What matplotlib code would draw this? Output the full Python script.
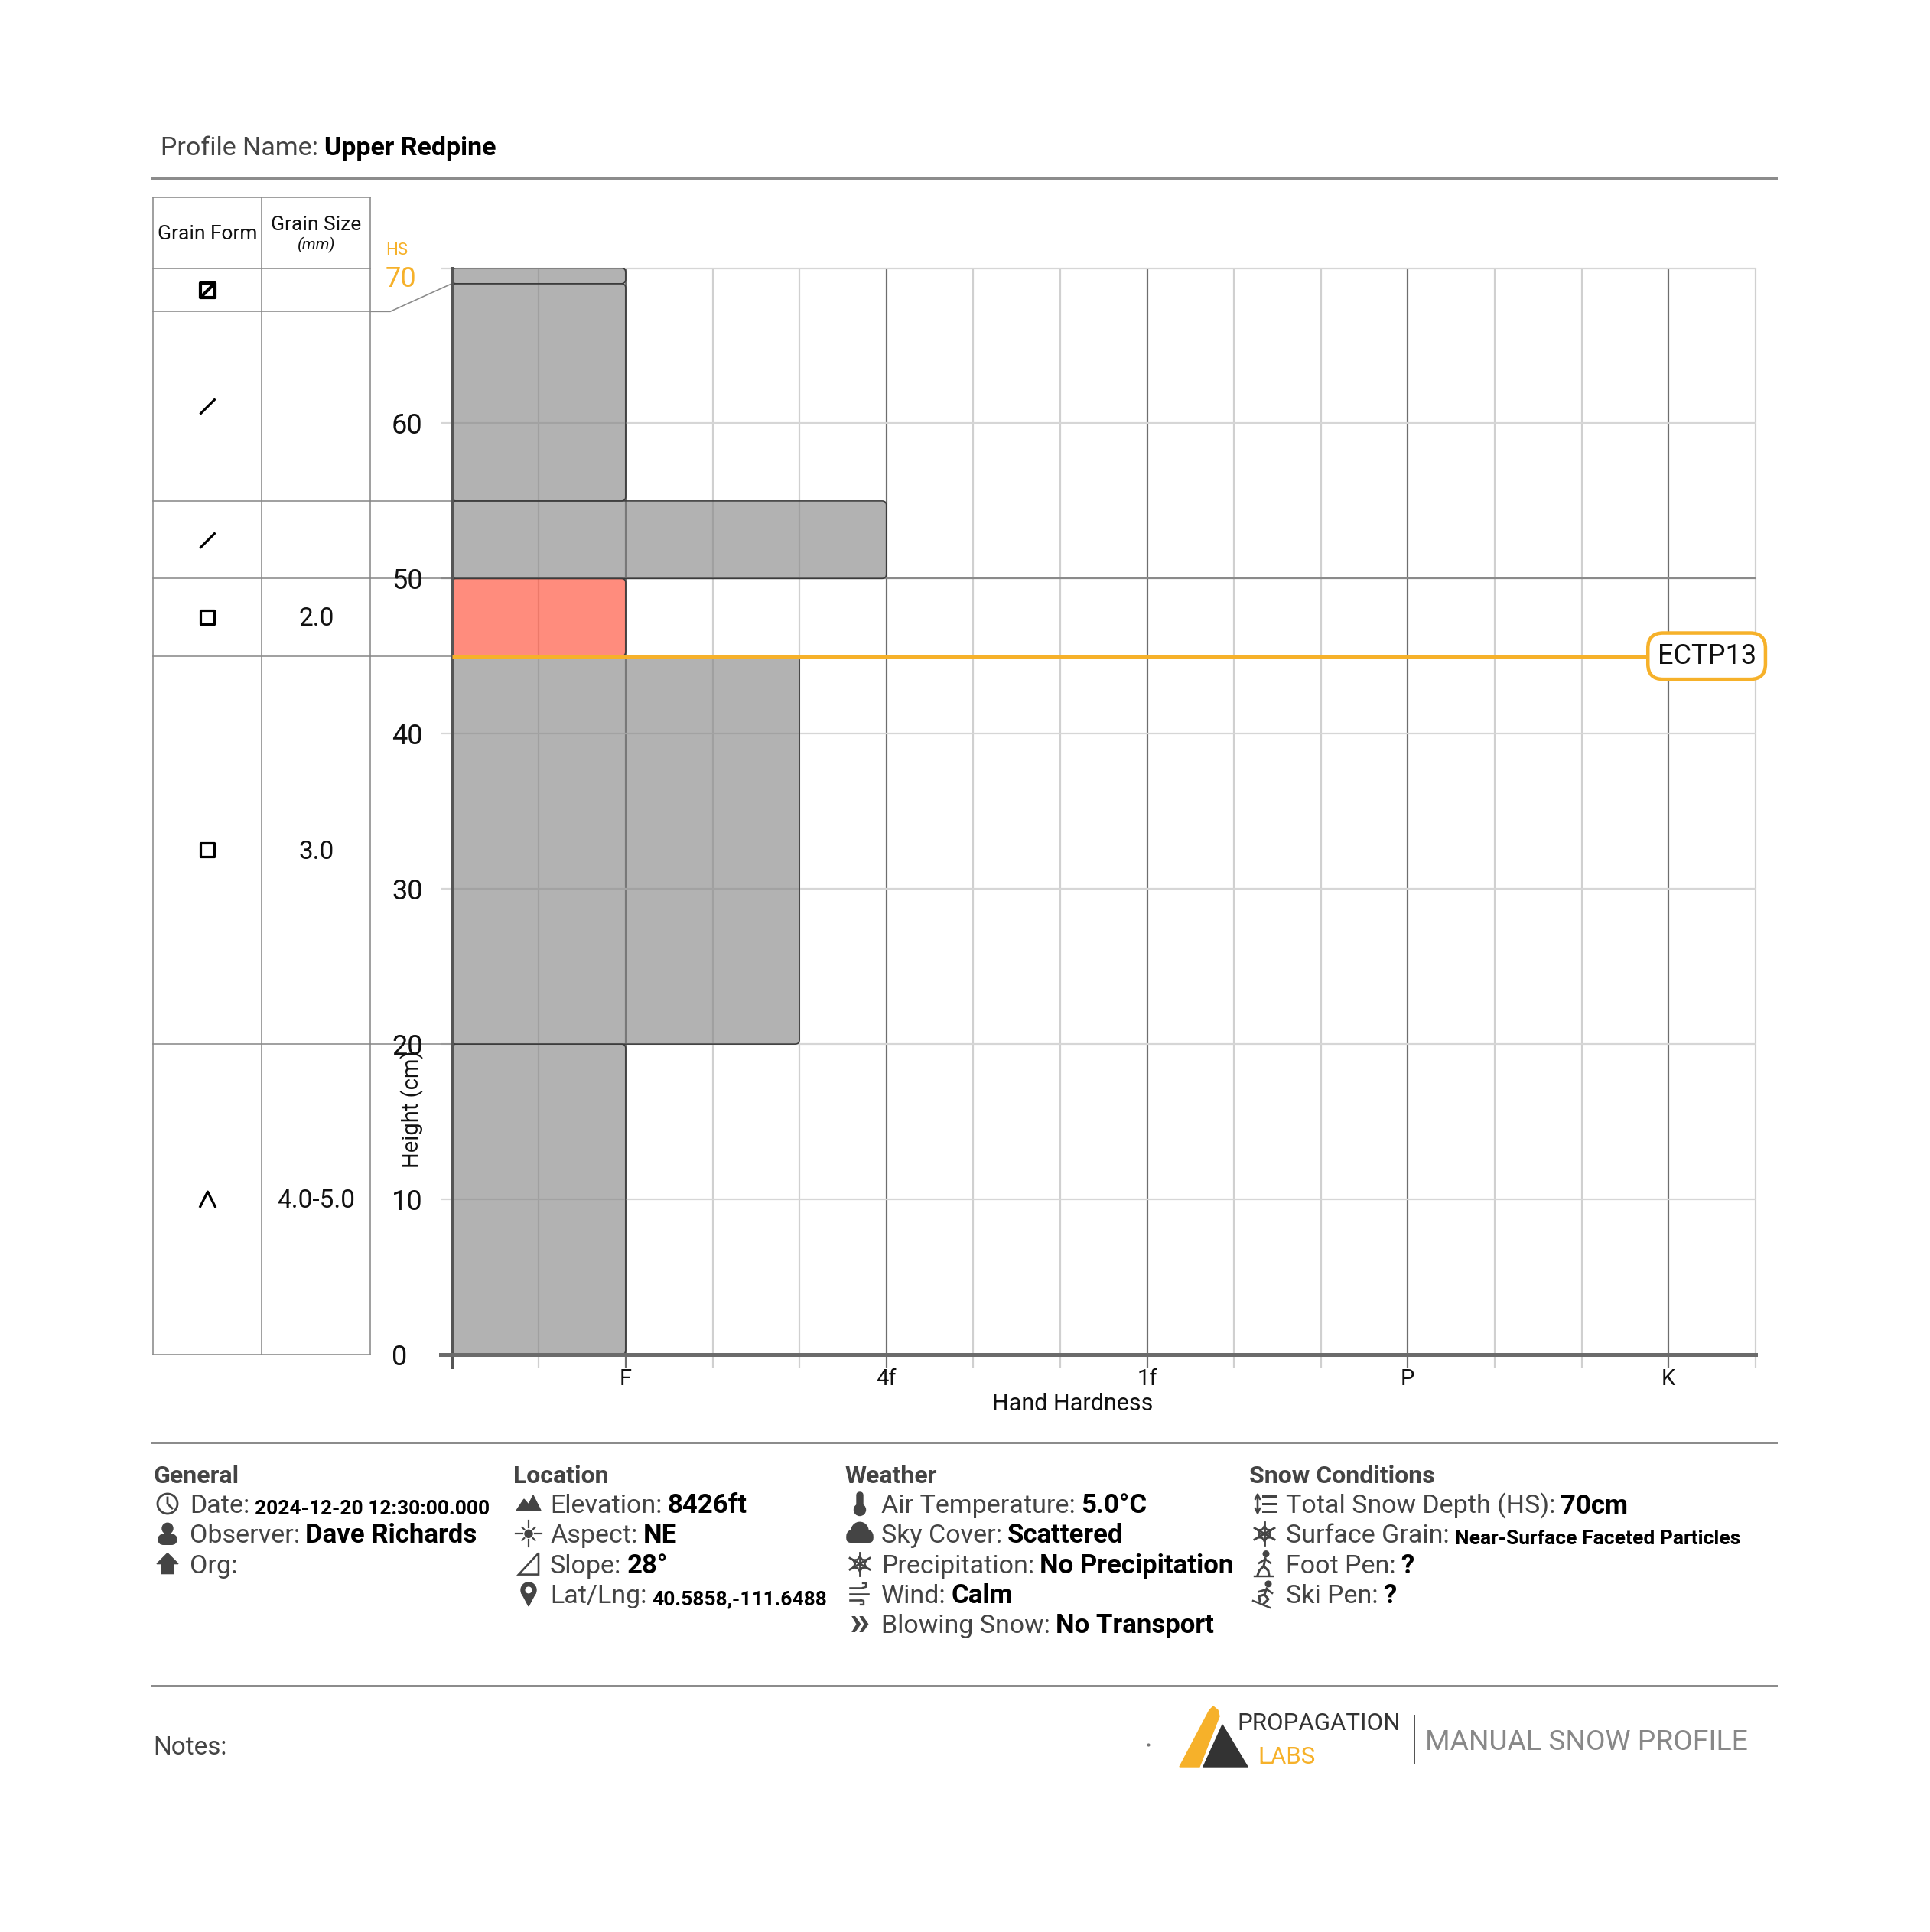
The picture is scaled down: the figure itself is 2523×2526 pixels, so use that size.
import numpy as np
import matplotlib
matplotlib.use('Agg')
import matplotlib.pyplot as plt
from matplotlib.patches import FancyBboxPatch, Circle, Polygon
from matplotlib.path import Path

plt.rcParams['font.family'] = ['Roboto', 'DejaVu Sans']

# ---- data -------------------------------------------------------------
profile_name = 'Upper Redpine'

# snow layers, listed bottom up (cm)
layer_bottom = [0, 20, 45, 50, 55, 69]
layer_top = [20, 45, 50, 55, 69, 70]
layer_hardness = ['F', '4F-', 'F', '4F', 'F', 'F']
layer_grain = ['DH', 'FC', 'FC', 'DF', 'DF', 'FCsf']
layer_size = ['4.0-5.0', '3.0', '2.0', '', '', '']
critical_layer = 2

hardness_steps = ['', 'F-', 'F', 'F+', '4F-', '4F', '4F+', '1F-', '1F', '1F+',
                  'P-', 'P', 'P+', 'K-', 'K', 'K+']
hardness_names = ['F', '4F', '1F', 'P', 'K']
hardness_labels = ['F', '4f', '1f', 'P', 'K']

height_ticks = [0, 10, 20, 30, 40, 50, 60]
total_depth = 70

test_height = 45
test_label = 'ECTP13'

general_rows = [('clock', 'Date:', '2024-12-20 12:30:00.000', True),
                ('user', 'Observer:', 'Dave Richards', False),
                ('home', 'Org:', '', False)]
location_rows = [('mountain', 'Elevation:', '8426ft', False),
                 ('sun', 'Aspect:', 'NE', False),
                 ('slope', 'Slope:', '28°', False),
                 ('pin', 'Lat/Lng:', '40.5858,-111.6488', True)]
weather_rows = [('thermo', 'Air Temperature:', '5.0°C', False),
                ('cloud', 'Sky Cover:', 'Scattered', False),
                ('flake', 'Precipitation:', 'No Precipitation', False),
                ('wind', 'Wind:', 'Calm', False),
                ('blow', 'Blowing Snow:', 'No Transport', False)]
snow_rows = [('depth', 'Total Snow Depth (HS):', '70cm', False),
             ('flake', 'Surface Grain:', 'Near-Surface Faceted Particles', True),
             ('walk', 'Foot Pen:', '?', False),
             ('ski', 'Ski Pen:', '?', False)]

# ---- styles / layout --------------------------------------------------
ORANGE = '#F6B12A'
LABEL_C = '#444444'
LINE_C = '#8c8c8c'
ICON_C = '#444444'
PT = 0.72  # points per pixel at dpi 100

W, H = 2523, 2526
fig = plt.figure(figsize=(W / 100, H / 100), dpi=100)

ov = fig.add_axes([0, 0, 1, 1])
ov.set_xlim(0, W)
ov.set_ylim(H, 0)
ov.axis('off')

AX_L, AX_R, AX_T, AX_B = 590.7, 2294.7, 350.5, 1771
ax = fig.add_axes([AX_L / W, 1 - AX_B / H, (AX_R - AX_L) / W, (AX_B - AX_T) / H])
ax.patch.set_visible(False)
nsteps = len(hardness_steps) - 1
ax.set_xlim(0, nsteps)
ax.set_ylim(0, total_depth)
XPX = (AX_R - AX_L) / nsteps
YPX = (AX_B - AX_T) / total_depth

# table columns in data-x units
TAB_L, TAB_M, TAB_R = -3.44, -2.19, -0.935
TAB_TOP = 74.57
KNEE = -0.71
MIN_ROW = 2.8
DY = -4 / YPX  # small downward nudge for centred texts

# ---- grid ---------------------------------------------------------------
for i in range(1, nsteps + 1):
    major = hardness_steps[i] in hardness_names
    ax.vlines(i, -17 / YPX, total_depth, color='#6e6e6e' if major else '#d0d0d0',
              lw=2.2 * PT, zorder=1, clip_on=False)
for h in range(0, total_depth + 1, 10):
    major = h % 50 == 0
    ax.hlines(h, -15 / XPX, nsteps, color='#8a8a8a' if major else '#d6d6d6',
              lw=2.2 * PT, zorder=1, clip_on=False)

for s in ['top', 'right']:
    ax.spines[s].set_visible(False)
ax.spines['left'].set_color('#555555')
ax.spines['left'].set_linewidth(4 * PT)
ax.spines['left'].set_bounds(-17 / YPX, total_depth)
ax.spines['bottom'].set_color('#6b6b6b')
ax.spines['bottom'].set_linewidth(5 * PT)
ax.spines['bottom'].set_bounds(-15 / XPX, nsteps)

# ---- layers -------------------------------------------------------------
for k in range(len(layer_bottom)):
    xr = hardness_steps.index(layer_hardness[k])
    fc = (1.0, 0.25, 0.15, 0.6) if k == critical_layer else (0.5, 0.5, 0.5, 0.6)
    ax.add_patch(FancyBboxPatch((0, layer_bottom[k]), xr, layer_top[k] - layer_bottom[k],
                                boxstyle='round,pad=0,rounding_size=0.05',
                                mutation_aspect=XPX / YPX, fc=fc, ec='#3c3c3c',
                                lw=1.6 * PT, zorder=2))

# stability test line
tx = 14.44
ax.plot([0, tx], [test_height, test_height], color=ORANGE, lw=5 * PT, zorder=3,
        solid_capstyle='butt')
ax.text(tx, test_height, test_label, fontsize=26, ha='center', va='center', color='#111111',
        zorder=5, bbox=dict(boxstyle='round,pad=0.34,rounding_size=0.55', fc='white',
                            ec=ORANGE, lw=4.5 * PT))

# ---- axes labels ----------------------------------------------------------
ax.set_xticks([hardness_steps.index(n) for n in hardness_names], hardness_labels)
ax.tick_params(axis='x', length=0, pad=18 * PT, labelsize=21, labelcolor='#111111')
ax.set_yticks(height_ticks, [str(v) for v in height_ticks])
ax.tick_params(axis='y', length=0, pad=(AX_L - 512) * PT, labelsize=26, labelcolor='#111111')
for lab in ax.get_yticklabels():
    lab.set_horizontalalignment('left')

ax.text((512 - AX_L) / XPX - 0.07, total_depth - 0.73, str(total_depth), fontsize=26,
        color=ORANGE, ha='left', va='center', clip_on=False)
ax.text((512 - AX_L) / XPX - 0.07, total_depth + 1.12, 'HS', fontsize=16,
        color=ORANGE, ha='left', va='center', clip_on=False)
ax.text((1402 - AX_L) / XPX, -2.96 + DY, 'Hand Hardness', fontsize=22, ha='center',
        va='center', color='#111111', clip_on=False)
ax.text((539 - AX_L) / XPX, 15.8, 'Height (cm)', fontsize=21, rotation=90, ha='center',
        va='center', color='#111111', clip_on=False)

# ---- grain table ----------------------------------------------------------
tl = dict(color='#8a8a8a', lw=1.6 * PT, clip_on=False, zorder=1)
for xv in [TAB_L, TAB_M, TAB_R]:
    ax.plot([xv, xv], [0, TAB_TOP], **tl)
ax.plot([TAB_L, TAB_R], [TAB_TOP, TAB_TOP], **tl)
ax.plot([TAB_L, TAB_R], [total_depth, total_depth], **tl)

col1 = (TAB_L + TAB_M) / 2
col2 = (TAB_M + TAB_R) / 2
ax.text(col1, 72.37 + DY, 'Grain Form', fontsize=19, ha='center', va='center',
        color='#111111', clip_on=False)
ax.text(col2, 73.0 + DY, 'Grain Size', fontsize=19, ha='center', va='center',
        color='#111111', clip_on=False)
ax.text(col2, 71.66 + DY, '(mm)', fontsize=15, style='italic', ha='center', va='center',
        color='#111111', clip_on=False)

M, L, C = Path.MOVETO, Path.LINETO, Path.CLOSEPOLY
grain_marker = {
    'DF': (Path([(-1, -1), (1, 1)], [M, L]), 14.4, 2.3),
    'FC': (Path([(-1, -1), (1, -1), (1, 1), (-1, 1), (-1, -1)], [M, L, L, L, C]), 13.0, 2.3),
    'DH': (Path([(-1, -1), (0, 1), (1, -1)], [M, L, L]), 15.0, 2.3),
    'FCsf': (Path([(-1, -1), (1, -1), (1, 1), (-1, 1), (-1, -1), (-1, -1), (1, 1)],
                  [M, L, L, L, C, M, L]), 13.7, 3.0),
}

row_top = total_depth
for k in reversed(range(len(layer_bottom))):
    row_bot = min(layer_bottom[k], row_top - MIN_ROW)
    ax.plot([TAB_L, TAB_R], [row_bot, row_bot], **tl)
    if layer_bottom[k] > 0:
        ax.plot([TAB_R, KNEE, 0], [row_bot, row_bot, layer_bottom[k]], **tl)
    yc = (row_top + row_bot) / 2
    path, ms, mw = grain_marker[layer_grain[k]]
    ax.plot([col1], [yc], marker=path, ms=ms, mew=mw, mec='black', mfc='none',
            ls='none', clip_on=False, zorder=4)
    ax.text(col2, yc + DY * 0.6, layer_size[k], fontsize=24, ha='center', va='center',
            color='#111111', clip_on=False)
    row_top = row_bot

# ---- header ---------------------------------------------------------------
t = ov.text(210, 194, 'Profile Name:', fontsize=24.5, color=LABEL_C, ha='left', va='center')
ov.annotate(profile_name, xy=(1, 0), xycoords=t, xytext=(6, 0), textcoords='offset points',
            fontsize=24.5, fontweight='bold', color='black', ha='left', va='bottom')
for yl in [233, 1886, 2204]:
    ov.plot([198, 2322], [yl, yl], color=LINE_C, lw=3 * PT)


# ---- footer icons -----------------------------------------------------------
def icon(kind, cx, cy):
    c = ICON_C
    if kind == 'clock':
        ov.add_patch(Circle((cx, cy), 13, fill=False, ec=c, lw=2.8 * PT))
        ov.plot([cx, cx, cx + 6], [cy - 8, cy, cy + 6], color=c, lw=2.8 * PT)
    elif kind == 'user':
        ov.add_patch(Circle((cx, cy - 7), 7, color=c))
        ov.add_patch(FancyBboxPatch((cx - 12, cy + 1), 24, 13, color=c,
                                    boxstyle='round,pad=0,rounding_size=7'))
    elif kind == 'home':
        ov.add_patch(Polygon([(cx - 14, cy), (cx, cy - 14), (cx + 14, cy), (cx + 8, cy),
                              (cx + 8, cy + 13), (cx - 8, cy + 13), (cx - 8, cy)], color=c))
    elif kind == 'mountain':
        ov.add_patch(Polygon([(cx - 16, cy + 9), (cx - 6, cy - 6), (cx, cy + 1), (cx + 6, cy - 11),
                              (cx + 16, cy + 9)], color=c))
    elif kind == 'sun':
        ov.add_patch(Circle((cx, cy), 5, color=c))
        for a in np.radians(np.arange(0, 360, 45)):
            r0, r1 = (8, 17) if a % (np.pi / 2) < 0.01 else (8, 12)
            ov.plot([cx + r0 * np.cos(a), cx + r1 * np.cos(a)],
                    [cy + r0 * np.sin(a), cy + r1 * np.sin(a)], color=c, lw=2.2 * PT)
    elif kind == 'slope':
        ov.add_patch(Polygon([(cx - 13, cy + 14), (cx + 13, cy + 14), (cx + 13, cy - 14)],
                             fill=False, ec=c, lw=2.6 * PT))
    elif kind == 'pin':
        ov.add_patch(Polygon([(cx - 9, cy - 1), (cx + 9, cy - 1), (cx, cy + 16)], color=c))
        ov.add_patch(Circle((cx, cy - 5), 10, color=c))
        ov.add_patch(Circle((cx, cy - 5), 3.8, color='white'))
    elif kind == 'thermo':
        ov.add_patch(FancyBboxPatch((cx - 4, cy - 15), 8, 20, color=c,
                                    boxstyle='round,pad=0,rounding_size=4'))
        ov.add_patch(Circle((cx, cy + 8), 7.5, color=c))
    elif kind == 'cloud':
        for (dx, dy, r) in [(-9, 3, 8), (0, -4, 11), (9, 3, 8)]:
            ov.add_patch(Circle((cx + dx, cy + dy), r, color=c))
        ov.add_patch(FancyBboxPatch((cx - 17, cy + 1), 34, 10, color=c,
                                    boxstyle='round,pad=0,rounding_size=5'))
    elif kind == 'flake':
        for a in np.radians([90, 30, 150]):
            ox, oy = 15 * np.cos(a), 15 * np.sin(a)
            ov.plot([cx - ox, cx + ox], [cy - oy, cy + oy], color=c, lw=2.8 * PT)
        for a in np.radians(np.arange(30, 390, 60)):
            bx, by = cx + 10 * np.cos(a), cy + 10 * np.sin(a)
            for da in np.radians([35, -35]):
                ov.plot([bx, bx + 6 * np.cos(a + np.pi + da)], [by, by + 6 * np.sin(a + np.pi + da)],
                        color=c, lw=2.2 * PT)
    elif kind == 'wind':
        for dy, ln in [(-8, 17), (0, 24), (8, 14)]:
            ov.plot([cx - 13, cx - 13 + ln], [cy + dy, cy + dy], color=c, lw=2.6 * PT)
        ov.plot([cx + 4, cx + 8, cx + 8, cx + 4], [cy - 8, cy - 9, cy - 14, cy - 14], color=c,
                lw=2.4 * PT)
        ov.plot([cx + 1, cx + 5, cx + 5, cx + 1], [cy + 8, cy + 9, cy + 14, cy + 14], color=c,
                lw=2.4 * PT)
    elif kind == 'blow':
        ov.text(cx, cy - 1, '»', fontsize=38, fontweight='bold', color=c, ha='center',
                va='center')
    elif kind == 'depth':
        ov.annotate('', xy=(cx - 9, cy - 15), xytext=(cx - 9, cy + 15),
                    arrowprops=dict(arrowstyle='<->', color=c, lw=2.6 * PT,
                                    mutation_scale=11, shrinkA=0, shrinkB=0))
        for dy in [-10, 0, 10]:
            ov.plot([cx - 2, cx + 14], [cy + dy, cy + dy], color=c, lw=3 * PT)
    elif kind == 'walk':
        ov.add_patch(Circle((cx + 2, cy - 13), 3.8, color=c))
        ov.plot([cx + 1, cx - 1, cx - 7, cx - 9], [cy - 7, cy + 3, cy + 9, cy + 15], color=c,
                lw=3 * PT)
        ov.plot([cx - 1, cx + 5, cx + 6], [cy + 3, cy + 9, cy + 15], color=c, lw=3 * PT)
        ov.plot([cx - 7, cx + 1, cx + 8], [cy - 1, cy - 6, cy - 1], color=c, lw=2.6 * PT)
        ov.plot([cx - 13, cx + 11], [cy + 16, cy + 16], color=c, lw=2.4 * PT)
    elif kind == 'ski':
        ov.add_patch(Circle((cx + 5, cy - 13), 3.8, color=c))
        ov.plot([cx + 3, cx, cx + 5, cx - 1], [cy - 7, cy + 1, cy + 7, cy + 13], color=c,
                lw=3 * PT)
        ov.plot([cx, cx - 7, cx - 6], [cy + 1, cy + 3, cy + 10], color=c, lw=3 * PT)
        ov.plot([cx - 7, cx + 3, cx + 10], [cy - 3, cy - 6, cy - 1], color=c, lw=2.6 * PT)
        ov.plot([cx - 15, cx + 7], [cy + 9, cy + 18], color=c, lw=2.4 * PT)


sections = [('General', 200, 219, 248, general_rows),
            ('Location', 671, 691, 719, location_rows),
            ('Weather', 1104, 1124, 1152, weather_rows),
            ('Snow Conditions', 1633, 1653, 1681, snow_rows)]
HEAD_Y, ROW0_Y, ROW_DY = 1930, 1969, 39.3
for title, hx, ix, tx0, rows in sections:
    ov.text(hx, HEAD_Y, title, fontsize=23, fontweight='bold', color=LABEL_C, ha='left',
            va='center')
    for j, (kind, label, value, small) in enumerate(rows):
        y = ROW0_Y + j * ROW_DY
        icon(kind, ix, y - 3)
        t = ov.text(tx0, y, label, fontsize=24.5, color=LABEL_C, ha='left', va='center')
        ov.annotate(value, xy=(1, 0), xycoords=t, xytext=(5, 0), textcoords='offset points',
                    fontsize=19 if small else 25, fontweight='bold', color='black',
                    ha='left', va='bottom')

# ---- notes and logo ---------------------------------------------------------
ov.text(200, 2285, 'Notes:', fontsize=24, color=LABEL_C, ha='left', va='center')
ov.plot([1500.5], [2281], marker='o', ms=2, color='#777777')
ov.add_patch(Polygon([(1542, 2310), (1581, 2236), (1586, 2231), (1592, 2236), (1594, 2244),
                      (1568, 2310)], color=ORANGE))
ov.add_patch(Polygon([(1573, 2310), (1598, 2255), (1631, 2310)], color='#333333'))
ov.text(1617, 2254, 'PROPAGATION', fontsize=22.5, color='#333333', ha='left', va='center')
ov.text(1644, 2298, 'LABS', fontsize=22.5, color=ORANGE, ha='left', va='center')
ov.plot([1849, 1849], [2243, 2305], color='#555555', lw=2 * PT)
ov.text(1863, 2278, 'MANUAL SNOW PROFILE', fontsize=26.8, color='#888888', ha='left',
        va='center')

fig.savefig('out.png', dpi=100, facecolor='white')
